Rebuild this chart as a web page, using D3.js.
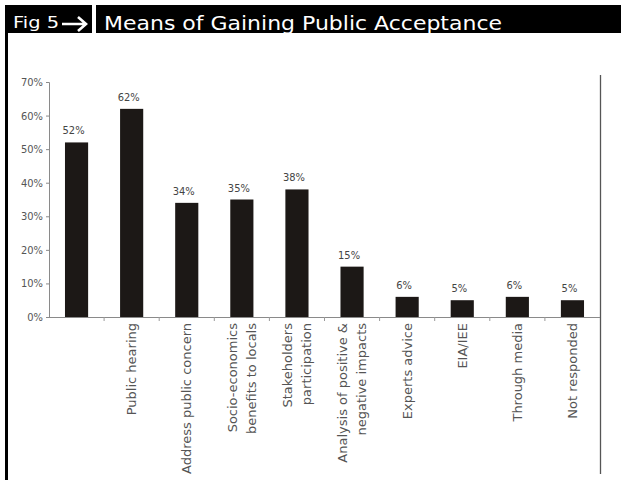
<!DOCTYPE html>
<html>
<head>
<meta charset="utf-8">
<script src="https://cdn.jsdelivr.net/npm/d3@7"></script>
<style>
  html, body { margin: 0; padding: 0; background: #fff; }
  svg { display: block; }
</style>
</head>
<body>
<svg id="chart" width="621" height="480"></svg>
<script>
// Survey responses: means of gaining public acceptance
const categories = [
  [""],
  ["Public hearing"],
  ["Address public concern"],
  ["Socio-economics", "benefits to locals"],
  ["Stakeholders", "participation"],
  ["Analysis of positive &", "negative impacts"],
  ["Experts advice"],
  ["EIA/IEE"],
  ["Through media"],
  ["Not responded"]
];
const shares = [0.52, 0.62, 0.34, 0.35, 0.38, 0.15, 0.06, 0.05, 0.06, 0.05];
const shareLabels = ["52%", "62%", "34%", "35%", "38%", "15%", "6%", "5%", "6%", "5%"];
const yTicks = [0, 0.1, 0.2, 0.3, 0.4, 0.5, 0.6, 0.7];
const figLabel = "Fig 5";
const title = "Means of Gaining Public Acceptance";

const svg = d3.select("#chart");
const W = 621, H = 480;

// Title band
svg.append("rect").attr("x", 5).attr("y", 5).attr("width", W - 5).attr("height", 28).attr("fill", "#000");
svg.append("rect").attr("x", 92).attr("y", 5).attr("width", 4).attr("height", 28).attr("fill", "#fff");
svg.append("text")
  .attr("x", 13).attr("y", 28)
  .attr("font-family", "DejaVu Sans").attr("font-size", 16)
  .attr("textLength", 46).attr("lengthAdjust", "spacingAndGlyphs")
  .attr("fill", "#fff").text(figLabel);
// arrow after the figure number
svg.append("path")
  .attr("d", "M62,24 L85,24 M78,17 L86,24 L78,31")
  .attr("fill", "none").attr("stroke", "#fff").attr("stroke-width", 2.6)
  .attr("stroke-linecap", "butt").attr("stroke-linejoin", "miter");
svg.append("text")
  .attr("x", 104).attr("y", 30)
  .attr("font-family", "DejaVu Sans").attr("font-size", 19.5)
  .attr("textLength", 398).attr("lengthAdjust", "spacingAndGlyphs")
  .attr("fill", "#fff").text(title);

// Frame lines
svg.append("rect").attr("x", 5).attr("y", 5).attr("width", 3).attr("height", H - 5).attr("fill", "#000");
svg.append("line").attr("x1", 600.5).attr("x2", 600.5).attr("y1", 75).attr("y2", 474)
  .attr("stroke", "#555").attr("stroke-width", 1.3);

// Scales
const x = d3.scaleBand()
  .domain(d3.range(categories.length))
  .range([49, 600])
  .paddingInner(0.58)
  .paddingOuter(0.29);
const y = d3.scaleLinear().domain([0, 0.7]).range([317, 82]);

// Y axis
const yAxis = svg.append("g").attr("transform", "translate(49,0)")
  .call(d3.axisLeft(y).tickValues(yTicks).tickFormat(d3.format(".0%")).tickSize(3).tickPadding(3));
yAxis.select(".domain").attr("stroke", "#8a8a8a");
yAxis.selectAll(".tick line").attr("stroke", "#8a8a8a");
yAxis.selectAll(".tick text")
  .attr("font-family", "DejaVu Sans Condensed").attr("font-size", 11)
  .attr("fill", "#555");

// X axis: ticks at band boundaries
const xAxisG = svg.append("g");
xAxisG.append("line").attr("x1", 49).attr("x2", 600).attr("y1", 317.5).attr("y2", 317.5)
  .attr("stroke", "#8a8a8a");
xAxisG.selectAll("line.bound")
  .data(d3.range(1, categories.length))
  .join("line")
  .attr("class", "bound")
  .attr("x1", i => x(i) - x.step() * x.paddingInner() / 2)
  .attr("x2", i => x(i) - x.step() * x.paddingInner() / 2)
  .attr("y1", 317).attr("y2", 321)
  .attr("stroke", "#9a9a9a");

// Bars
svg.append("g").selectAll("rect")
  .data(shares)
  .join("rect")
  .attr("x", (d, i) => x(i))
  .attr("y", d => y(d))
  .attr("width", x.bandwidth())
  .attr("height", d => y(0) - y(d))
  .attr("fill", "#1c1816");

// Value labels
svg.append("g").selectAll("text")
  .data(shares)
  .join("text")
  .attr("x", (d, i) => x(i) + x.bandwidth() / 2 - 3)
  .attr("y", d => y(d) - 8)
  .attr("text-anchor", "middle")
  .attr("font-family", "DejaVu Sans Condensed").attr("font-size", 11)
  .attr("fill", "#444")
  .text((d, i) => shareLabels[i]);

// Category labels, rotated to read upward
const lineGap = 18.5;
const catG = svg.append("g").selectAll("g")
  .data(categories)
  .join("g")
  .attr("transform", (d, i) => `translate(${x(i) + x.bandwidth() / 2},323) rotate(-90)`);
catG.each(function (lines) {
  const g = d3.select(this);
  const n = lines.length;
  lines.forEach((t, k) => {
    g.append("text")
      .attr("x", 0)
      .attr("y", (k - (n - 1) / 2) * lineGap)
      .attr("dy", "0.35em")
      .attr("text-anchor", "end")
      .attr("font-family", "DejaVu Sans").attr("font-size", 13)
      .attr("fill", "#555")
      .text(t);
  });
});
</script>
</body>
</html>
